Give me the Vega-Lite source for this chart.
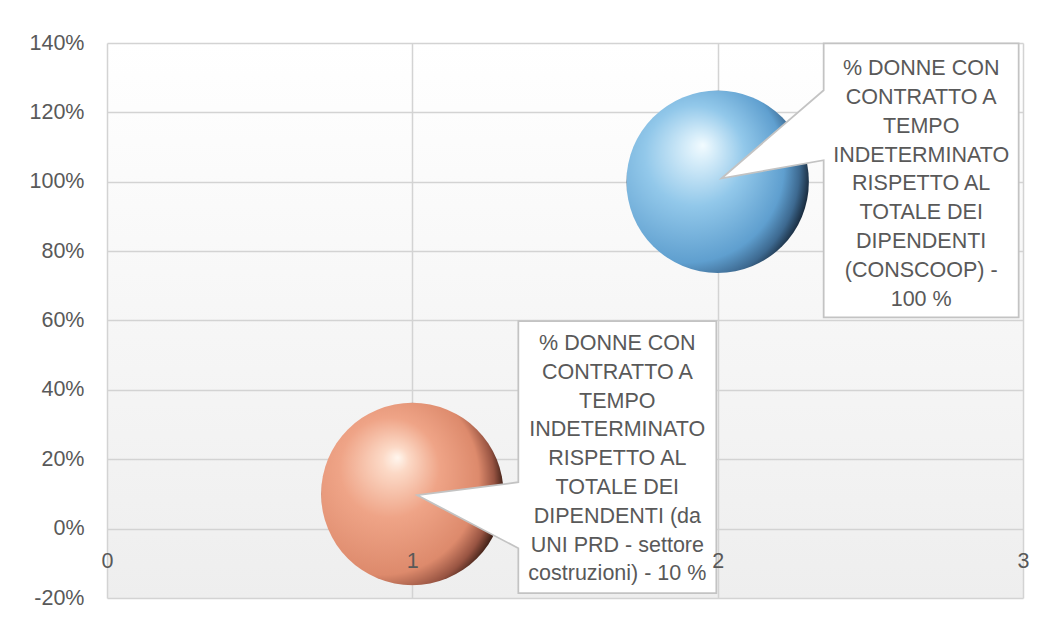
{
  "$schema": "https://vega.github.io/schema/vega-lite/v6.json",
  "width": 916,
  "height": 555,
  "autosize": {"type": "none"},
  "padding": {"left": 107, "top": 43, "right": 25, "bottom": 19},
  "background": "white",
  "view": {
    "stroke": null,
    "fill": {"gradient": "linear", "x1": 0, "y1": 0, "x2": 0, "y2": 1,
      "stops": [{"offset": 0, "color": "#ffffff"}, {"offset": 1, "color": "#eeeeee"}]}
  },
  "config": {
    "font": "Liberation Sans",
    "axis": {
      "labelFont": "Liberation Sans",
      "labelFontSize": 21.5,
      "labelColor": "#595959",
      "gridColor": "#d3d3d3",
      "gridWidth": 1.5,
      "domain": false,
      "ticks": false,
      "tickSize": 0,
      "title": null
    }
  },
  "data": {
    "values": [
      {"x": 1, "y": 0.1, "series": "UNI PRD", "label": "% DONNE CON\nCONTRATTO A\nTEMPO\nINDETERMINATO\nRISPETTO AL\nTOTALE DEI\nDIPENDENTI (da\nUNI PRD - settore\ncostruzioni) - 10 %"},
      {"x": 2, "y": 1.0, "series": "CONSCOOP", "label": "% DONNE CON\nCONTRATTO A\nTEMPO\nINDETERMINATO\nRISPETTO AL\nTOTALE DEI\nDIPENDENTI\n(CONSCOOP) -\n100 %"}
    ]
  },
  "encoding": {
    "y": {
      "field": "y",
      "type": "quantitative",
      "scale": {"domain": [-0.2, 1.4], "nice": false, "zero": false},
      "axis": {
        "values": [-0.2, 0, 0.2, 0.4, 0.6, 0.8, 1, 1.2, 1.4],
        "labelExpr": "round(datum.value * 100) + '%'",
        "grid": true,
        "labelPadding": 23,
        "title": null
      }
    }
  },
  "layer": [
    {
      "mark": {"type": "circle", "size": 33300, "opacity": 1, "strokeWidth": 0},
      "encoding": {
        "x": {
          "field": "x",
          "type": "quantitative",
          "scale": {"domain": [0, 3], "nice": false, "zero": false},
          "axis": {"values": [0, 1, 2, 3], "grid": true, "labels": false, "orient": "bottom", "zindex": 0, "title": null}
        },
        "fill": {
          "condition": {
            "test": "datum.series === 'CONSCOOP'",
            "value": {"gradient": "radial", "x1": 0.42, "y1": 0.3, "r1": 0, "x2": 0.3, "y2": 0.45, "r2": 0.72,
              "stops": [
                {"offset": 0, "color": "#f2fbff"},
                {"offset": 0.1, "color": "#d8eefa"},
                {"offset": 0.38, "color": "#92c8ea"},
                {"offset": 0.74, "color": "#5f9fcf"},
                {"offset": 0.88, "color": "#3d6990"},
                {"offset": 1, "color": "#101c2a"}
              ]}
          },
          "value": {"gradient": "radial", "x1": 0.42, "y1": 0.3, "r1": 0, "x2": 0.3, "y2": 0.45, "r2": 0.72,
            "stops": [
              {"offset": 0, "color": "#fff6ee"},
              {"offset": 0.1, "color": "#fcd9c6"},
              {"offset": 0.38, "color": "#efa487"},
              {"offset": 0.74, "color": "#dd8a6c"},
              {"offset": 0.88, "color": "#985442"},
              {"offset": 1, "color": "#200e08"}
            ]}
        }
      }
    },
    {
      "mark": {"type": "point", "filled": true, "fill": "white", "stroke": "#c3c3c3", "strokeWidth": 1.75, "opacity": 1, "size": 4},
      "encoding": {
        "x": {
          "field": "x",
          "type": "quantitative",
          "axis": {"values": [0, 1, 2, 3], "grid": false, "labels": true, "orient": "bottom", "offset": -69.4, "labelPadding": 22, "labelFlush": false, "labelOverlap": false, "zindex": 1, "title": null}
        },
        "shape": {
          "field": "series",
          "type": "nominal",
          "scale": {
            "domain": ["UNI PRD", "CONSCOOP"],
            "range": [
              "M5,1.3L106,-11.7L106,-172.7L304,-172.7L304,99.3L106,99.3L106,54.3Z",
              "M4,-3.5L106,-91.5L106,-138.5L301,-138.5L301,135.5L106,135.5L106,-21.5Z"
            ]
          },
          "legend": null
        }
      }
    },
    {
      "transform": [{"filter": "datum.series === 'CONSCOOP'"}],
      "mark": {"type": "text", "align": "center", "baseline": "middle", "dx": 203.5, "dy": -112.5, "fontSize": 21.5, "lineHeight": 28.8, "lineBreak": "\n", "color": "#595959", "font": "Liberation Sans"},
      "encoding": {
        "x": {"field": "x", "type": "quantitative", "axis": null},
        "text": {"field": "label"}
      }
    },
    {
      "transform": [{"filter": "datum.series === 'UNI PRD'"}],
      "mark": {"type": "text", "align": "center", "baseline": "middle", "dx": 205, "dy": -150, "fontSize": 21.5, "lineHeight": 28.8, "lineBreak": "\n", "color": "#595959", "font": "Liberation Sans"},
      "encoding": {
        "x": {"field": "x", "type": "quantitative", "axis": null},
        "text": {"field": "label"}
      }
    }
  ],
  "resolve": {"axis": {"x": "independent"}}
}
